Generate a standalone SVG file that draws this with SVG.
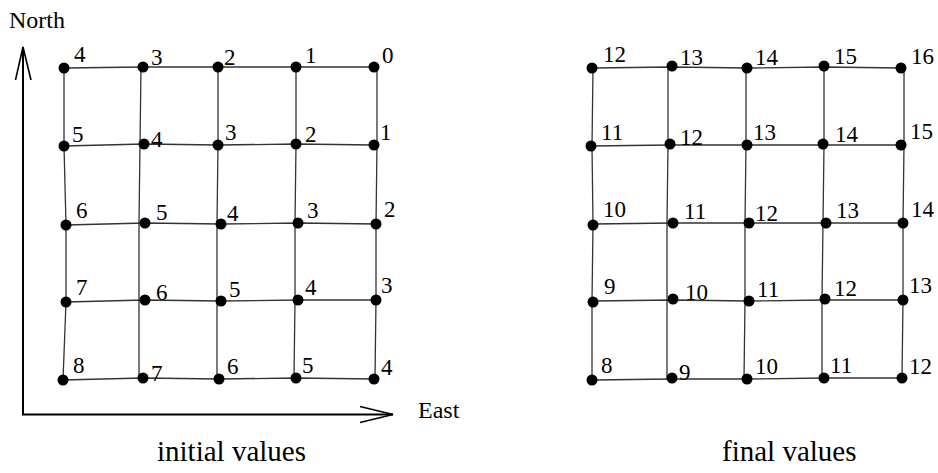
<svg xmlns="http://www.w3.org/2000/svg" width="938" height="473" viewBox="0 0 938 473">
<style>
.bg{fill:#fff}
.ln{stroke:#333;stroke-width:1.3;fill:none}
.ax{stroke:#000;stroke-width:2;fill:none}
.ah{stroke:#000;stroke-width:1.6;fill:none}
.dot{fill:#000}
.t{font-family:'Liberation Serif','DejaVu Serif',serif;fill:#000}
.v{font-size:23px}
.lab{font-size:24px}
.cap{font-size:29px}
</style>
<rect class="bg" width="938" height="473"/>
<g id="connectors">
<polyline class="ln" points="64,68 143,67 218,67 296,67 374,67"/>
<polyline class="ln" points="64,146 144,144 218,145 296,144 374,145"/>
<polyline class="ln" points="66,225 145,223 221,224 298,223 376,224"/>
<polyline class="ln" points="66,302 145,300 221,301 298,300 376,300"/>
<polyline class="ln" points="63,380 143,378 219,379 296,378 374,379"/>
<polyline class="ln" points="64,68 64,146 66,225 66,302 63,380"/>
<polyline class="ln" points="141,67 140,144 139,223 139,300 139,378"/>
<polyline class="ln" points="218,67 218,145 217,224 217,301 217,379"/>
<polyline class="ln" points="296,67 296,144 295,223 295,300 294,378"/>
<polyline class="ln" points="377,67 377,145 376,224 376,300 375,379"/>
<polyline class="ln" points="592,68 672,67 747,68 824,67 901,68"/>
<polyline class="ln" points="591,146 670,145 747,145 823,145 901,145"/>
<polyline class="ln" points="593,224 673,223 749,223 826,223 903,223"/>
<polyline class="ln" points="593,301 673,300 749,301 825,300 903,300"/>
<polyline class="ln" points="592,380 672,379 747,379 824,378 902,378"/>
<polyline class="ln" points="593,68 592,146 593,224 592,301 592,380"/>
<polyline class="ln" points="668,67 668,145 667,223 667,300 667,378"/>
<polyline class="ln" points="746,68 746,145 745,223 745,301 744,379"/>
<polyline class="ln" points="824,67 824,145 823,223 822,300 822,378"/>
<polyline class="ln" points="904,68 904,145 903,223 903,300 902,378"/>
<polyline class="ax" points="23,47 23,414.5 393,414.5"/>
<polyline class="ah" points="15.5,80 23,47 31,80"/>
<polyline class="ah" points="360,406.5 393,414.5 360,422.5"/>
</g>
<g id="axis-labels" class="t" font-family="Liberation Serif, DejaVu Serif, serif">
<text class="lab" x="9" y="28">North</text>
<text class="lab" x="418" y="418">East</text>
</g>
<g id="left-grid" class="t" font-family="Liberation Serif, DejaVu Serif, serif">
<circle class="dot" cx="64" cy="68" r="5.5"/><text class="v" x="74" y="62">4</text>
<circle class="dot" cx="143" cy="67" r="5.5"/><text class="v" x="151" y="65">3</text>
<circle class="dot" cx="218" cy="67" r="5.5"/><text class="v" x="224" y="65">2</text>
<circle class="dot" cx="296" cy="67" r="5.5"/><text class="v" x="305" y="63">1</text>
<circle class="dot" cx="374" cy="67" r="5.5"/><text class="v" x="382" y="63">0</text>

<circle class="dot" cx="64" cy="146" r="5.5"/><text class="v" x="72" y="142">5</text>
<circle class="dot" cx="144" cy="144" r="5.5"/><text class="v" x="151" y="147">4</text>
<circle class="dot" cx="218" cy="145" r="5.5"/><text class="v" x="225" y="140">3</text>
<circle class="dot" cx="296" cy="144" r="5.5"/><text class="v" x="305" y="142">2</text>
<circle class="dot" cx="374" cy="145" r="5.5"/><text class="v" x="380" y="140">1</text>

<circle class="dot" cx="66" cy="225" r="5.5"/><text class="v" x="76" y="218">6</text>
<circle class="dot" cx="145" cy="223" r="5.5"/><text class="v" x="156" y="220">5</text>
<circle class="dot" cx="221" cy="224" r="5.5"/><text class="v" x="227" y="221">4</text>
<circle class="dot" cx="298" cy="223" r="5.5"/><text class="v" x="307" y="218">3</text>
<circle class="dot" cx="376" cy="224" r="5.5"/><text class="v" x="384" y="217">2</text>

<circle class="dot" cx="66" cy="302" r="5.5"/><text class="v" x="76" y="295">7</text>
<circle class="dot" cx="145" cy="300" r="5.5"/><text class="v" x="156" y="300">6</text>
<circle class="dot" cx="221" cy="301" r="5.5"/><text class="v" x="229" y="297">5</text>
<circle class="dot" cx="298" cy="300" r="5.5"/><text class="v" x="305" y="295">4</text>
<circle class="dot" cx="376" cy="300" r="5.5"/><text class="v" x="381" y="293">3</text>

<circle class="dot" cx="63" cy="380" r="5.5"/><text class="v" x="73" y="373">8</text>
<circle class="dot" cx="143" cy="378" r="5.5"/><text class="v" x="151" y="381">7</text>
<circle class="dot" cx="219" cy="379" r="5.5"/><text class="v" x="227" y="374">6</text>
<circle class="dot" cx="296" cy="378" r="5.5"/><text class="v" x="302" y="373">5</text>
<circle class="dot" cx="374" cy="379" r="5.5"/><text class="v" x="381" y="375">4</text>
</g>
<g id="right-grid" class="t" font-family="Liberation Serif, DejaVu Serif, serif">
<circle class="dot" cx="592" cy="68" r="5.5"/><text class="v" x="603" y="62">12</text>
<circle class="dot" cx="672" cy="66" r="5.5"/><text class="v" x="680" y="65">13</text>
<circle class="dot" cx="747" cy="68" r="5.5"/><text class="v" x="755" y="65">14</text>
<circle class="dot" cx="824" cy="66" r="5.5"/><text class="v" x="834" y="64">15</text>
<circle class="dot" cx="901" cy="68" r="5.5"/><text class="v" x="911" y="64">16</text>

<circle class="dot" cx="591" cy="146" r="5.5"/><text class="v" x="601" y="140">11</text>
<circle class="dot" cx="670" cy="144" r="5.5"/><text class="v" x="680" y="145">12</text>
<circle class="dot" cx="747" cy="145" r="5.5"/><text class="v" x="753" y="140">13</text>
<circle class="dot" cx="823" cy="144" r="5.5"/><text class="v" x="835" y="142">14</text>
<circle class="dot" cx="901" cy="145" r="5.5"/><text class="v" x="910" y="139">15</text>

<circle class="dot" cx="593" cy="225" r="5.5"/><text class="v" x="603" y="217">10</text>
<circle class="dot" cx="673" cy="223" r="5.5"/><text class="v" x="684" y="219">11</text>
<circle class="dot" cx="749" cy="223" r="5.5"/><text class="v" x="755" y="221">12</text>
<circle class="dot" cx="826" cy="223" r="5.5"/><text class="v" x="836" y="218">13</text>
<circle class="dot" cx="903" cy="223" r="5.5"/><text class="v" x="911" y="217">14</text>

<circle class="dot" cx="593" cy="302" r="5.5"/><text class="v" x="604" y="294">9</text>
<circle class="dot" cx="673" cy="299" r="5.5"/><text class="v" x="685" y="300">10</text>
<circle class="dot" cx="749" cy="301" r="5.5"/><text class="v" x="757" y="297">11</text>
<circle class="dot" cx="825" cy="299" r="5.5"/><text class="v" x="834" y="296">12</text>
<circle class="dot" cx="903" cy="300" r="5.5"/><text class="v" x="909" y="293">13</text>

<circle class="dot" cx="592" cy="380" r="5.5"/><text class="v" x="601" y="373">8</text>
<circle class="dot" cx="672" cy="378" r="5.5"/><text class="v" x="679" y="380">9</text>
<circle class="dot" cx="747" cy="379" r="5.5"/><text class="v" x="755" y="374">10</text>
<circle class="dot" cx="824" cy="378" r="5.5"/><text class="v" x="830" y="373">11</text>
<circle class="dot" cx="902" cy="378" r="5.5"/><text class="v" x="909" y="374">12</text>
</g>
<g id="captions" class="t" font-family="Liberation Serif, DejaVu Serif, serif">
<text class="cap" x="157" y="461">initial values</text>
<text class="cap" x="722" y="461">final values</text>
</g>
</svg>
